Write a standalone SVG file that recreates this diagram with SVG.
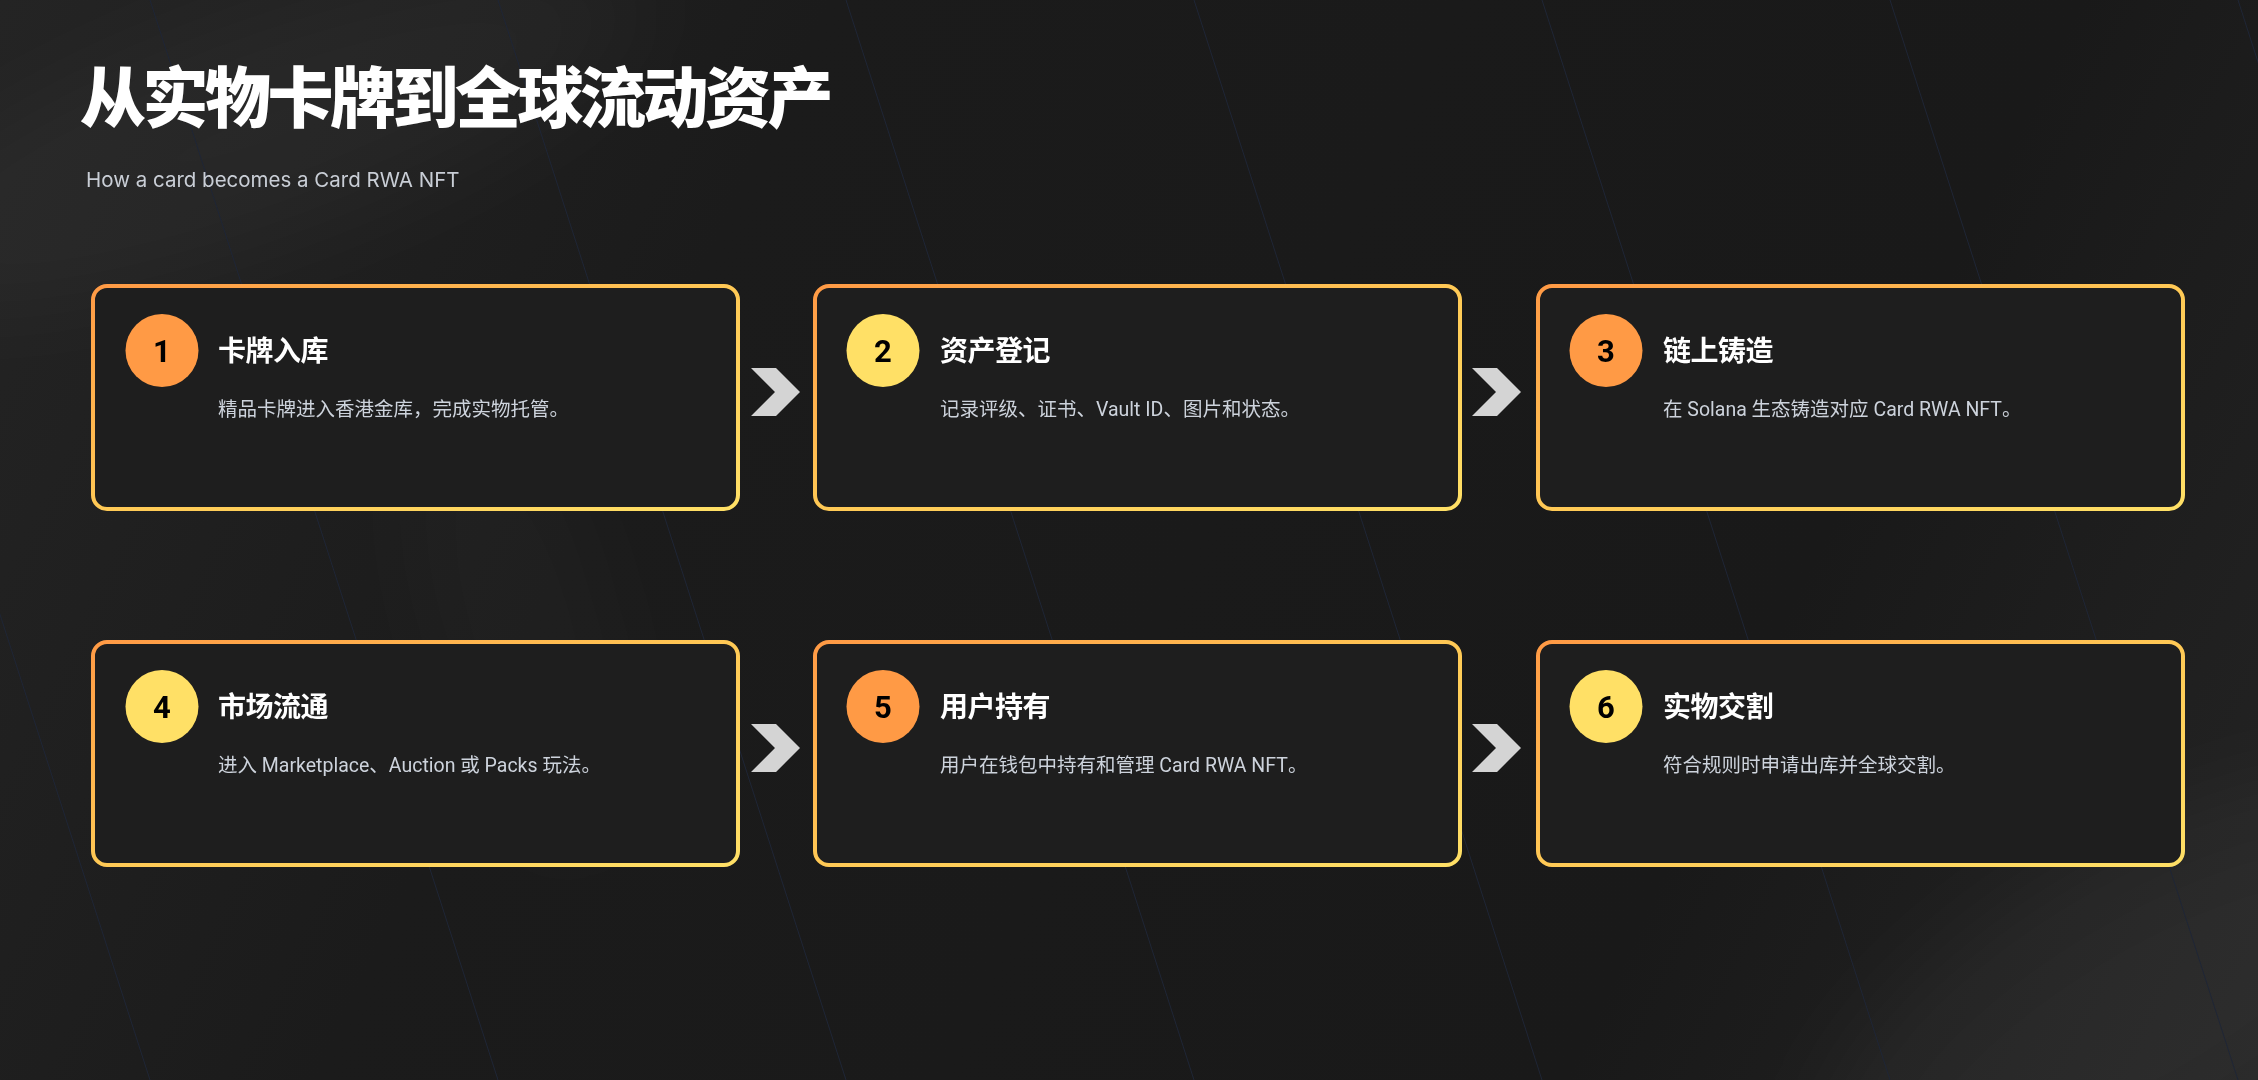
<svg xmlns="http://www.w3.org/2000/svg" width="2258" height="1080" viewBox="0 0 2258 1080">
  <defs>
    <linearGradient id="bg" x1="0" y1="0" x2="2258" y2="1080" gradientUnits="userSpaceOnUse">
      <stop offset="0" stop-color="#242424"/>
      <stop offset="0.3" stop-color="#1b1b1b"/>
      <stop offset="0.75" stop-color="#191919"/>
      <stop offset="1" stop-color="#242424"/>
    </linearGradient>
    <linearGradient id="border" x1="0" y1="0" x2="1" y2="1">
      <stop offset="0" stop-color="#ff9a45"/>
      <stop offset="0.5" stop-color="#ffc955"/>
      <stop offset="1" stop-color="#ffe066"/>
    </linearGradient>
    <filter id="blur" x="-50%" y="-50%" width="200%" height="200%">
      <feGaussianBlur stdDeviation="60"/>
    </filter>
    <style>
      .card { fill: #1e1e1e; stroke: url(#border); stroke-width: 4; }
      .c-orange { fill: #ff9a45; }
      .c-yellow { fill: #ffe066; }
      .num { font-family: Roboto, "Liberation Sans", sans-serif; font-weight: 700; font-size: 31px; fill: #000; text-anchor: middle; }
      .title { font-family: "Noto Sans CJK SC", sans-serif; font-weight: 700; font-size: 28px; fill: #ffffff; letter-spacing: -0.5px; }
      .desc { font-family: Roboto, "Noto Sans CJK SC", sans-serif; font-size: 19.5px; fill: #cdd3dc; }
      .chev { fill: #d4d4d4; }
      .bgline { stroke: #1f2636; stroke-width: 1; }
    </style>
  </defs>

  <rect x="0" y="0" width="2258" height="1080" fill="url(#bg)"/>
  <g filter="url(#blur)" fill="#ffffff">
    <ellipse cx="260" cy="130" rx="420" ry="110" transform="rotate(-20 260 130)" opacity="0.035"/>
    <ellipse cx="2150" cy="1010" rx="380" ry="160" transform="rotate(-30 2150 1010)" opacity="0.045"/>
    <ellipse cx="520" cy="620" rx="90" ry="260" transform="rotate(-15 520 620)" opacity="0.025"/>
  </g>
  <g id="bg-lines">
    <line class="bgline" x1="-198" y1="0" x2="150" y2="1080"/>
    <line class="bgline" x1="150" y1="0" x2="498" y2="1080"/>
    <line class="bgline" x1="498" y1="0" x2="846" y2="1080"/>
    <line class="bgline" x1="846" y1="0" x2="1194" y2="1080"/>
    <line class="bgline" x1="1194" y1="0" x2="1542" y2="1080"/>
    <line class="bgline" x1="1542" y1="0" x2="1890" y2="1080"/>
    <line class="bgline" x1="1890" y1="0" x2="2238" y2="1080"/>
    <line class="bgline" x1="2238" y1="0" x2="2586" y2="1080"/>
  </g>

  <g id="header">
    <text x="80" y="122" font-family="'Noto Sans CJK SC', sans-serif" font-weight="900" font-size="66" letter-spacing="-3.5" fill="#ffffff">从实物卡牌到全球流动资产</text>
    <text x="86" y="187" font-family="Inter, 'Liberation Sans', sans-serif" font-size="20.5" fill="#c9ced6">How a card becomes a Card RWA NFT</text>
  </g>

  <g id="connectors">
    <polygon class="chev" points="751,368 776,368 800,392 776,416 751,416 775,392"/>
    <polygon class="chev" points="1472,368 1497,368 1521,392 1497,416 1472,416 1496,392"/>
    <polygon class="chev" points="751,724 776,724 800,748 776,772 751,772 775,748"/>
    <polygon class="chev" points="1472,724 1497,724 1521,748 1497,772 1472,772 1496,748"/>
  </g>

  <g id="step1">
    <rect class="card" x="93" y="286" width="645" height="223" rx="14"/>
    <circle class="c-orange" cx="162" cy="350.5" r="36.5"/>
    <text class="num" x="162" y="362">1</text>
    <text class="title" x="218" y="361">卡牌入库</text>
    <text class="desc" x="218" y="416">精品卡牌进入香港金库，完成实物托管。</text>
  </g>
  <g id="step2">
    <rect class="card" x="815" y="286" width="645" height="223" rx="14"/>
    <circle class="c-yellow" cx="883" cy="350.5" r="36.5"/>
    <text class="num" x="883" y="362">2</text>
    <text class="title" x="940" y="361">资产登记</text>
    <text class="desc" x="940" y="416">记录评级、证书、Vault ID、图片和状态。</text>
  </g>
  <g id="step3">
    <rect class="card" x="1538" y="286" width="645" height="223" rx="14"/>
    <circle class="c-orange" cx="1606" cy="350.5" r="36.5"/>
    <text class="num" x="1606" y="362">3</text>
    <text class="title" x="1663" y="361">链上铸造</text>
    <text class="desc" x="1663" y="416">在 Solana 生态铸造对应 Card RWA NFT。</text>
  </g>
  <g id="step4">
    <rect class="card" x="93" y="642" width="645" height="223" rx="14"/>
    <circle class="c-yellow" cx="162" cy="706.5" r="36.5"/>
    <text class="num" x="162" y="718">4</text>
    <text class="title" x="218" y="717">市场流通</text>
    <text class="desc" x="218" y="772">进入 Marketplace、Auction 或 Packs 玩法。</text>
  </g>
  <g id="step5">
    <rect class="card" x="815" y="642" width="645" height="223" rx="14"/>
    <circle class="c-orange" cx="883" cy="706.5" r="36.5"/>
    <text class="num" x="883" y="718">5</text>
    <text class="title" x="940" y="717">用户持有</text>
    <text class="desc" x="940" y="772">用户在钱包中持有和管理 Card RWA NFT。</text>
  </g>
  <g id="step6">
    <rect class="card" x="1538" y="642" width="645" height="223" rx="14"/>
    <circle class="c-yellow" cx="1606" cy="706.5" r="36.5"/>
    <text class="num" x="1606" y="718">6</text>
    <text class="title" x="1663" y="717">实物交割</text>
    <text class="desc" x="1663" y="772">符合规则时申请出库并全球交割。</text>
  </g>
</svg>
